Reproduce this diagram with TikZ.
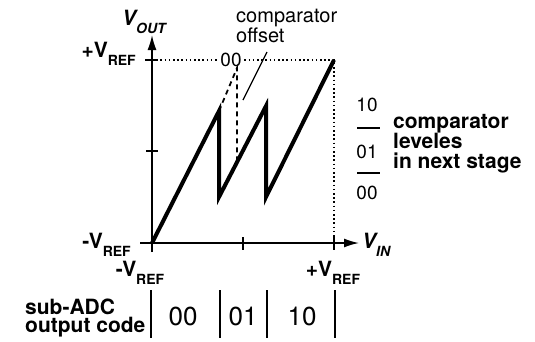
\documentclass[tikz,border=0pt]{standalone}
\usepackage{fontspec}
\setmainfont{TeX Gyre Heros}
\usetikzlibrary{arrows.meta,positioning}

% subscripted labels
\newcommand{\vsub}[2]{#1\raisebox{-8pt}{\fontsize{14}{14}\selectfont #2}}

\begin{document}
\begin{tikzpicture}[x=1pt,y=-1pt,
  axis/.style={line width=1.6pt,-{Latex[length=15pt,width=9pt]}},
  residue/.style={line width=4pt,line join=miter},
  guide/.style={line width=1.6pt,dash pattern=on 1.6pt off 2.6pt},
  offs/.style={line width=1.8pt,dash pattern=on 5pt off 4pt},
  lbl/.style={font=\bfseries\fontsize{21}{20}\selectfont,inner sep=0pt},
  axlbl/.style={font=\bfseries\itshape\fontsize{21}{20}\selectfont,inner sep=0pt},
  code/.style={font=\fontsize{19}{19}\selectfont,inner sep=0pt},
  bigcode/.style={font=\fontsize{26}{26}\selectfont,inner sep=0pt},
  txt/.style={font=\fontsize{20}{15}\selectfont,inner sep=0pt,align=left}]

\useasboundingbox (0,0) rectangle (535,341);

% axes
\coordinate (O) at (152,243);
\coordinate (ybot) at (152,252);
\coordinate (ytop) at (152,35);
\coordinate (xbeg) at (140,243);
\coordinate (xend) at (359,243);
\draw[axis] (ybot) -- (ytop);
\draw[axis] (xbeg) -- (xend);

% ticks
\draw[line width=1.6pt] (145,60) -- (158,60);
\draw[line width=1.6pt] (146,151) -- (158,151);
\draw[line width=1.6pt] (243,237) -- (243,250);
\draw[line width=1.6pt] (334,237) -- (334,250);

% full scale guides
\coordinate (fsl) at (152,60);
\coordinate (fs) at (334,60);
\coordinate (fsb) at (334,243);
\draw[guide] (fsl) -- (fs) -- (fsb);
\node[code,fill=white,inner sep=1pt] (zz) at (231,60) {00};

% residue
\coordinate (pk1) at (219,111);
\coordinate (lo1) at (219,197);
\coordinate (pk2) at (266,106);
\coordinate (lo2) at (266,197);
\draw[residue] (O) -- (pk1) -- (lo1) -- (pk2) -- (lo2) -- (fs);

% comparator offset
\coordinate (dtop) at (237,68);
\coordinate (dbot) at (237,160);
\draw[offs] (pk1) -- (dtop) -- (dbot);
\node[txt,anchor=north west] (offtxt) at (236,9) {comparator\\offset};
\coordinate (ptr) at (243,100);
\coordinate (ptrend) at (267,52);
\draw[line width=1.2pt] (ptr) -- (ptrend);

% axis labels
\node[axlbl,anchor=base west] (vout) at (122,25) {\vsub{V}{OUT}};
\node[axlbl,anchor=base west] (vin) at (362,248) {\vsub{V}{IN}};
\node[lbl,anchor=base east] (yp) at (136,57) {+\vsub{V}{REF}};
\node[lbl,anchor=base east] (yn) at (131,248) {-\vsub{V}{REF}};
\node[lbl,anchor=base] (xn) at (140,276) {-\vsub{V}{REF}};
\node[lbl,anchor=base] (xp) at (333,276) {+\vsub{V}{REF}};

% next stage levels
\node[code] (c10) at (367,105) {10};
\node[code] (c01) at (367,152) {01};
\node[code] (c00) at (367,193) {00};
\draw[line width=1.6pt] (357,128) -- (380,128);
\draw[line width=1.6pt] (357,173) -- (380,173);
\node[lbl,anchor=base west,align=left] (lev) at (393,168)
  {comparator\\leveles\\in next stage};

% sub-ADC codes
\node[lbl,anchor=base west,align=left,font=\bfseries\fontsize{21}{18}\selectfont]
  (subadc) at (25,332) {sub-ADC\\output code};
\foreach \x in {151,220,267,335}
  \draw[line width=1.8pt] (\x,290) -- (\x,338);
\node[bigcode] (s00) at (183,316) {00};
\node[bigcode] (s01) at (243,316) {01};
\node[bigcode] (s10) at (302,316) {10};

\end{tikzpicture}
\end{document}
